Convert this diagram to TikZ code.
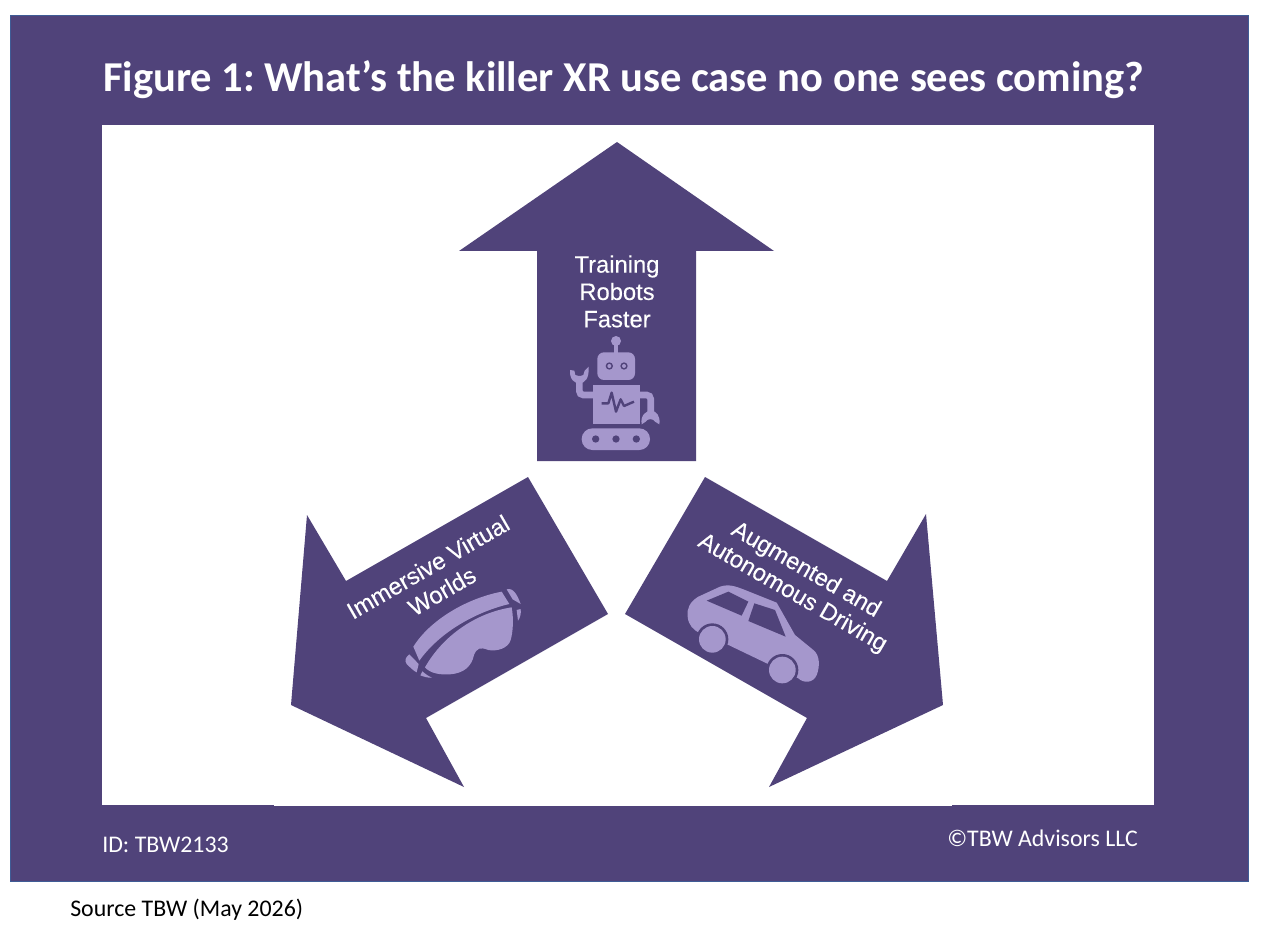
\documentclass[tikz,border=0pt]{standalone}
\usepackage{fontspec}
\setmainfont{Carlito}
\newfontfamily\artfont[FakeBold=0.2]{Liberation Sans}
\definecolor{tbwdark}{HTML}{50437A}
\definecolor{tbwlight}{HTML}{A597CC}
\definecolor{tbwedge}{HTML}{3F5C96}
\tikzset{
  arrowshape/.style={fill=tbwdark,draw=none},
  icon/.style={fill=tbwlight,draw=none},
  iconcut/.style={fill=tbwdark,draw=none},
  arttext/.style={text=white,font=\artfont\fontsize{17.8}{20}\selectfont,align=center,inner sep=0pt},
  whitelabel/.style={text=white,font=\fontsize{17.9}{20}\selectfont,anchor=west,inner sep=0pt},
}
\begin{document}
\begin{tikzpicture}[x=0.75pt,y=-0.75pt]
\useasboundingbox (0,0) rectangle (1273,937);
\fill[white] (0,0) rectangle (1273,937);
\fill[tbwdark,draw=tbwedge,line width=0.75pt] (10,16) rectangle (1248,881);
\fill[white] (102,125) rectangle (1154,805);
\fill[white] (274,805) rectangle (952,806);
\node[text=white,font=\bfseries\fontsize{31.9}{36}\selectfont,anchor=west,inner sep=0pt] (title) at (103,80) {Figure 1:\hspace{-3pt} What’s the killer XR use case no one sees coming?};
\node[whitelabel] (id) at (102,844.5) {ID: TBW2133};
\node[whitelabel] (copy) at (947,838) {©TBW Advisors LLC};
\node[text=black,font=\fontsize{17.9}{20}\selectfont,anchor=west,inner sep=0pt] (source) at (70,909.5) {Source TBW (May 2026)};
% top arrow
\fill[arrowshape] (617,142) -- (774,251) -- (696,251) -- (696,461) -- (537,461) -- (537,251) -- (459,251) -- cycle;
% left arrow
\fill[arrowshape] (528,477) -- (608,614) -- (426,718) -- (464,787) -- (291,705) -- (307,515) -- (346,581) -- cycle;
% right arrow
\fill[arrowshape] (705,477) -- (887,581) -- (926,514) -- (943,705) -- (769,787) -- (807,718) -- (625,614) -- cycle;
\node[arttext] (training) at (617,291.5) {Training\\[0.5pt]Robots\\[0.5pt]Faster};
\node[arttext,rotate=30] (immersive) at (435,579) {Immersive Virtual\\[1pt]Worlds};
\node[arttext,rotate=-30] (augmented) at (799,582) {Augmented and\\Autonomous Driving};
% robot
\begin{scope}[shift={(530,240)},x=0.25pt,y=-0.25pt]
  \fill[icon] (258,303) circle (15);
  \fill[icon] (253,303) rectangle (263,345);
  \fill[icon,rounded corners=5pt] (202,337) rectangle (315,420);
  \fill[iconcut] (238,378) circle (11) (282,378) circle (11);
  \fill[icon] (238,378) circle (6) (282,378) circle (6);
  \fill[icon] (190,435) rectangle (330,553);
  \draw[tbwdark,line width=1.8pt,line join=round] (215,490) -- (235,490) -- (245,458) -- (258,515) -- (272,478) -- (282,498) -- (312,485);
  \draw[tbwlight,line width=5pt,rounded corners=3pt] (190,465) -- (148,465) -- (148,415);
  \fill[icon] (120,390) .. controls (118,420) and (135,430) .. (148,430) .. controls (165,430) and (178,415) .. (176,380) -- (164,392) -- (160,405) .. controls (150,410) and (142,408) .. (136,405) -- (133,392) -- cycle;
  \draw[tbwlight,line width=5pt,rounded corners=3pt] (330,465) -- (362,465) -- (362,525);
  \fill[icon] (335,553) .. controls (330,525) and (350,512) .. (362,512) .. controls (380,512) and (392,530) .. (388,553) -- (375,545) .. controls (370,535) and (352,535) .. (347,545) -- cycle;
  \fill[icon,rounded corners=8pt] (155,565) rectangle (360,630);
  \fill[iconcut] (197,597) circle (11) (258,597) circle (11) (319,597) circle (11);
\end{scope}
% goggles
\begin{scope}[shift={(280,470)},x=0.25pt,y=-0.25pt]
  \fill[icon] (400,530) .. controls (450,450) and (560,385) .. (665,365) -- (688,402) .. controls (590,425) and (480,485) .. (418,572) -- cycle;
  \fill[icon] (435,592) .. controls (490,495) and (590,428) .. (695,412) .. controls (702,450) and (698,490) .. (692,510) .. controls (685,535) and (650,545) .. (625,540) .. controls (600,530) and (590,535) .. (582,555) .. controls (575,590) and (550,610) .. (510,613) .. controls (480,615) and (450,610) .. (435,592) -- cycle;
  \fill[icon] (680,358) .. controls (700,352) and (712,375) .. (722,402) -- (698,388) -- cycle;
  \fill[icon] (710,420) -- (722,417) .. controls (724,430) and (720,445) .. (714,452) -- cycle;
  \fill[icon] (388,553) .. controls (378,560) and (372,572) .. (380,582) .. controls (390,592) and (400,602) .. (410,607) -- (416,582) -- cycle;
  \fill[icon] (427,604) .. controls (435,612) and (445,618) .. (456,623) .. controls (445,624) and (430,620) .. (421,616) -- cycle;
\end{scope}
% car
\begin{scope}[shift={(620,470)},x=0.25pt,y=-0.25pt]
  \fill[icon] (203,440) .. controls (200,415) and (210,395) .. (235,380) -- (300,350) .. controls (330,340) and (350,350) .. (400,370) -- (470,398) -- (525,495) -- (580,540) .. controls (600,555) and (600,590) .. (590,615) .. controls (580,640) and (550,640) .. (535,625) -- (440,580) -- (315,520) -- (240,490) .. controls (220,480) and (205,465) .. (203,440) -- cycle;
  \fill[iconcut] (277,508) circle (48) (487,600) circle (48);
  \fill[icon] (277,508) circle (40) (487,600) circle (40);
  \fill[iconcut] (260,392) -- (325,365) -- (385,395) -- (365,437) -- cycle;
  \fill[iconcut] (403,400) -- (465,420) -- (497,500) -- (385,453) -- cycle;
\end{scope}
\end{tikzpicture}
\end{document}
